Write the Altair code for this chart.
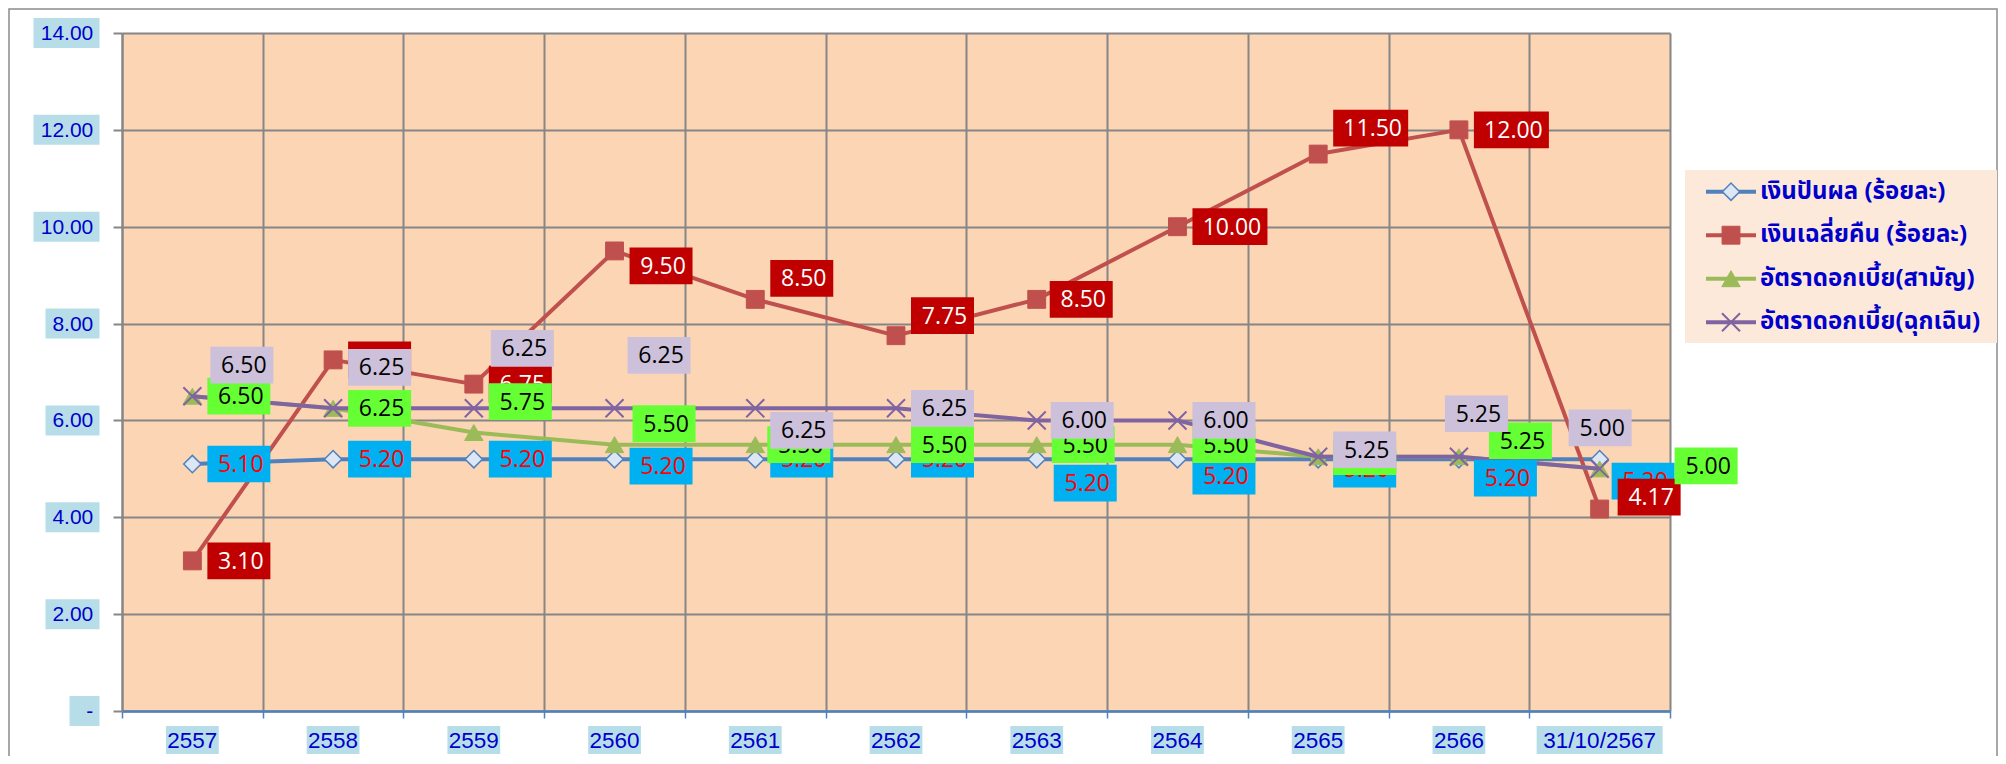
import altair as alt
import pandas as pd

# ---------------- data ----------------
categories = ["2557", "2558", "2559", "2560", "2561", "2562", "2563", "2564", "2565", "2566", "31/10/2567"]
series_names = ["เงินปันผล (ร้อยละ)", "เงินเฉลี่ยคืน (ร้อยละ)", "อัตราดอกเบี้ย(สามัญ)", "อัตราดอกเบี้ย(ฉุกเฉิน)"]
dividend = [5.10, 5.20, 5.20, 5.20, 5.20, 5.20, 5.20, 5.20, 5.20, 5.20, 5.20]
refund = [3.10, 7.25, 6.75, 9.50, 8.50, 7.75, 8.50, 10.00, 11.50, 12.00, 4.17]
rate_normal = [6.50, 6.25, 5.75, 5.50, 5.50, 5.50, 5.50, 5.50, 5.25, 5.25, 5.00]
rate_emergency = [6.50, 6.25, 6.25, 6.25, 6.25, 6.25, 6.00, 6.00, 5.25, 5.25, 5.00]
y_ticks = [0, 2, 4, 6, 8, 10, 12, 14]
series_values = [dividend, refund, rate_normal, rate_emergency]

# ---------------- layout / style ----------------
W, H = 1548, 678
NCAT = len(categories)
YMAX = 14
PXX = W / NCAT
PXY = H / YMAX

line_colors = ["#4f81bd", "#c0504d", "#9bbb59", "#8064a2"]
box_fill = ["#00b0f0", "#c00000", "#66ff33", "#ccc0da"]
text_fill = ["#ff0000", "#ffffff", "#000000", "#000000"]
# manual label nudges (pixels), like dragged Excel data labels
nudge_dx = [
    [0, 0, 0, 0, 0, 0, 2, 0, 0, 0, -3],
    [0, 0, 0, 0, 0, 0, -2, 0, 0, 0, 3],
    [0, 0, 0, 3, -3, 0, 0, 0, 0, 15, 60],
    [3, 0, 2, -2, 0, 0, -1, 0, 0, -29, -46],
]
nudge_dy = [
    [0, 0, 0, 7, 0, 0, 24, 17, 10, 19, 22],
    [0, 0, 0, 15, -21, -20, 0, 0, -26, 0, -12],
    [0, 0, -31, -21, 0, 0, 0, 0, 0, -16, -3],
    [-31, -41, -60, -53, 22, 0, 0, 0, -7, -43, -41],
]
XPATH = "M-1,-1L1,1M-1,1L1,-1"
marker_specs = [
    dict(shape="diamond", size=300, fill="#dce6f4", stroke="#4f81bd", strokeWidth=1.5, filled=True),
    dict(shape="square", size=320, fill="#c0504d", stroke="#c0504d", strokeWidth=1, filled=True),
    dict(shape="triangle-up", size=340, fill="#9bbb59", stroke="#9bbb59", strokeWidth=1, filled=True),
    dict(shape=XPATH, size=324, stroke="#8064a2", strokeWidth=2, filled=False),
]
AXIS_BLUE = "#0000cc"
LABEL_BG = "#b7dee8"
GRID = "#868686"

XS = alt.Scale(domain=[0, NCAT], nice=False, zero=False)
YS = alt.Scale(domain=[0, YMAX], nice=False, zero=False)

x_axis = alt.Axis(values=list(range(NCAT + 1)), labels=False, title=None,
                  tickColor="#4f81bd", tickSize=7, tickWidth=1.5,
                  domainColor="#4f81bd", domainWidth=2.5,
                  grid=True, gridColor=GRID, gridWidth=2)
y_axis = alt.Axis(values=y_ticks, labels=False, title=None,
                  tickColor=GRID, tickSize=9, tickWidth=2,
                  domainColor=GRID, domainWidth=2,
                  grid=True, gridColor=GRID, gridWidth=2)


def X(f):
    return alt.X(f"{f}:Q", scale=XS, axis=x_axis, title=None)


def Y(f):
    return alt.Y(f"{f}:Q", scale=YS, axis=y_axis, title=None)


layers = []

# outer chart border
one = pd.DataFrame({"a": [0]})
layers.append(alt.Chart(one).mark_rect(fill="transparent", stroke="#8c8c8c", strokeWidth=1.5).encode(
    x=alt.value(-113), x2=alt.value(1875), y=alt.value(-24), y2=alt.value(820)))

# lines + markers
for s, vals in enumerate(series_values):
    df = pd.DataFrame({"xpos": [i + 0.5 for i in range(NCAT)], "v": vals, "cat": categories})
    layers.append(alt.Chart(df).mark_line(color=line_colors[s], strokeWidth=4, strokeJoin="round").encode(
        x=X("xpos"), y=Y("v")))
    layers.append(alt.Chart(df).mark_point(opacity=1, **marker_specs[s]).encode(x=X("xpos"), y=Y("v")))

# data labels
BOX_H = 36.7
for s, vals in enumerate(series_values):
    rows = []
    for i, v in enumerate(vals):
        t = f"{v:.2f}"
        w = 12 * len(t) + 15
        left = i + 0.5 + (15 + nudge_dx[s][i]) / PXX
        yc = v - nudge_dy[s][i] / PXY
        rows.append(dict(text=t, x1=left, x2=left + w / PXX, xt=left + (w / 2 + 2) / PXX,
                         y1=yc - BOX_H / 2 / PXY, y2=yc + BOX_H / 2 / PXY, yt=yc))
    df = pd.DataFrame(rows)
    layers.append(alt.Chart(df).mark_rect(fill=box_fill[s]).encode(
        x=X("x1"), x2="x2:Q", y=Y("y1"), y2="y2:Q"))
    layers.append(alt.Chart(df).mark_text(font="Open Sans", fontSize=23, color=text_fill[s],
                                          align="center", baseline="middle", dy=1).encode(
        x=X("xt"), y=Y("yt"), text="text:N"))

# y tick labels with boxes
yrows = []
for t in y_ticks:
    lab = "-" if t == 0 else f"{t:.2f}"
    w = 30 if lab == "-" else (12 * len(lab) + 6)
    yrows.append(dict(lab=lab, t=t, x1=-(22.5 + w) / PXX, x2=-22.5 / PXX, xt=-28.7 / PXX,
                      y1=t - 15 / PXY, y2=t + 15 / PXY))
ydf = pd.DataFrame(yrows)
layers.append(alt.Chart(ydf).mark_rect(fill=LABEL_BG).encode(x=X("x1"), x2="x2:Q", y=Y("y1"), y2="y2:Q"))
layers.append(alt.Chart(ydf).mark_text(font="Liberation Sans", fontSize=21, color=AXIS_BLUE,
                                       align="right", baseline="middle", dy=1).encode(
    x=X("xt"), y=Y("t"), text="lab:N"))

# x category labels with boxes
xrows = []
for i, c in enumerate(categories):
    w = 12.2 * len(c) + 4
    xrows.append(dict(lab=c, xc=i + 0.5, x1=i + 0.5 - w / 2 / PXX, x2=i + 0.5 + w / 2 / PXX))
xdf = pd.DataFrame(xrows)
layers.append(alt.Chart(xdf).mark_rect(fill=LABEL_BG).encode(
    x=X("x1"), x2="x2:Q", y=alt.value(H + 15), y2=alt.value(H + 43)))
layers.append(alt.Chart(xdf).mark_text(font="Liberation Sans", fontSize=22.5, color=AXIS_BLUE,
                                       align="center", baseline="middle").encode(
    x=X("xc"), text="lab:N", y=alt.value(H + 30)))

# legend
LEG_X0, LEG_X1, LEG_Y0, LEG_Y1 = 1563, 1875, 137, 310
layers.append(alt.Chart(one).mark_rect(fill="#fde9d9").encode(
    x=alt.value(LEG_X0), x2=alt.value(LEG_X1), y=alt.value(LEG_Y0), y2=alt.value(LEG_Y1)))
for s, name in enumerate(series_names):
    ry = 158.7 + 43.5 * s
    layers.append(alt.Chart(one).mark_rule(color=line_colors[s], strokeWidth=4).encode(
        x=alt.value(1584), x2=alt.value(1634), y=alt.value(ry)))
    layers.append(alt.Chart(one).mark_point(opacity=1, **marker_specs[s]).encode(
        x=alt.value(1609), y=alt.value(ry)))
    layers.append(alt.Chart(pd.DataFrame({"name": [name]})).mark_text(
        font="Tahoma, Noto Sans Thai, Noto Sans, sans-serif", fontSize=24, fontWeight="bold",
        color=AXIS_BLUE, align="left", baseline="middle").encode(
        x=alt.value(1638), y=alt.value(ry), text="name:N"))

chart = alt.layer(*layers).properties(
    width=W, height=H,
    padding={"left": 114, "top": 25, "right": 328, "bottom": 45},
    autosize=alt.AutoSizeParams(type="none"),
).configure_view(fill="#fcd5b5", stroke=None)

chart.save("out.html", embed_options={"renderer": "svg", "actions": False})
